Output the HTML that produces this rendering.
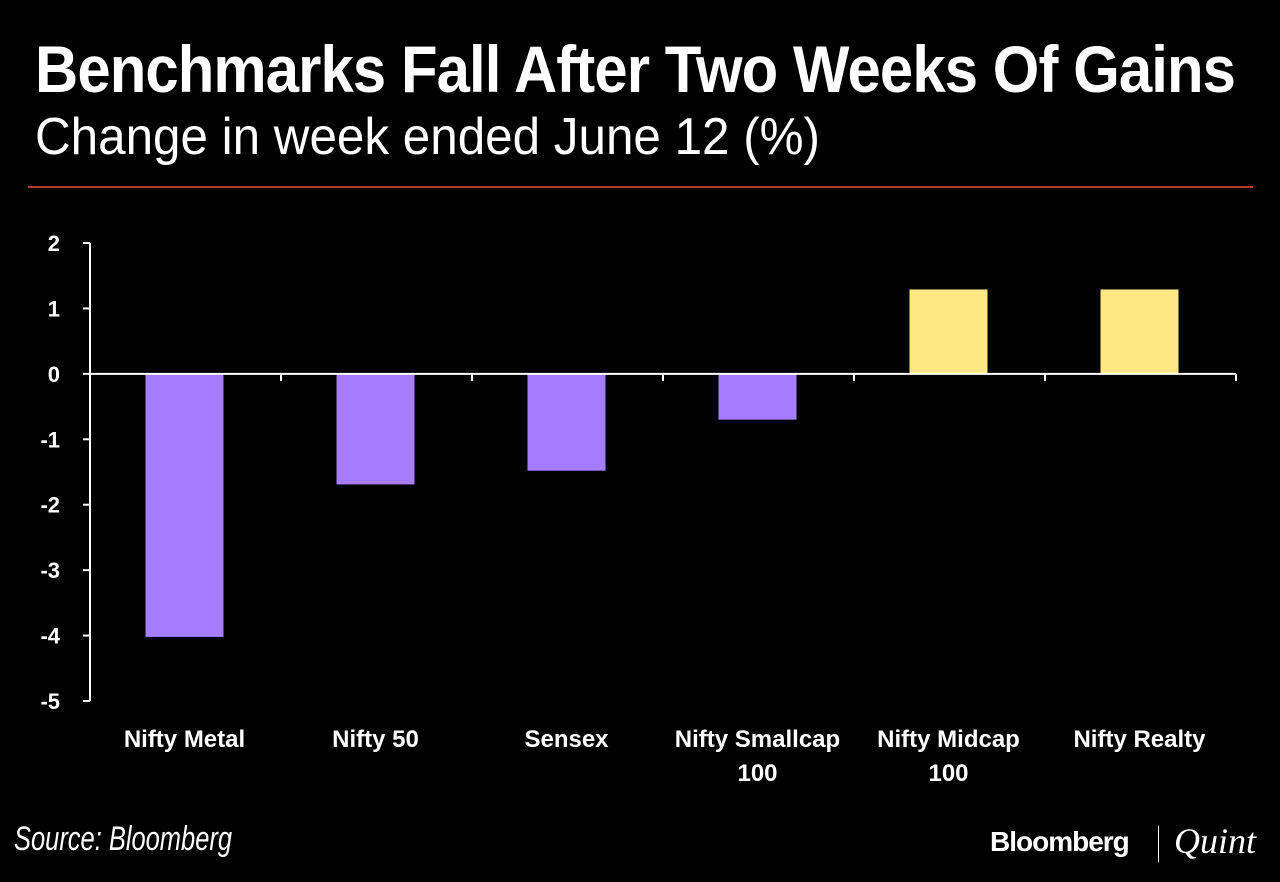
<!DOCTYPE html>
<html><head><meta charset="utf-8"><style>
html,body{margin:0;padding:0;background:#000;}
body{width:1280px;height:882px;position:relative;overflow:hidden;font-family:"Liberation Sans",sans-serif;color:#fff;}
.t{position:absolute;white-space:nowrap;transform-origin:0 0;}
</style></head><body>
<div class="t" style="left:35px;top:34px;font-size:66px;font-weight:bold;font-family:'Liberation Sans Narrow','Liberation Sans',sans-serif;letter-spacing:-1px;line-height:70px;" id="title">Benchmarks Fall After Two Weeks Of Gains</div>
<div class="t" style="left:35px;top:108px;font-size:52px;font-family:'Liberation Sans Narrow','Liberation Sans',sans-serif;line-height:58px;" id="sub">Change in week ended June 12 (%)</div>
<div style="position:absolute;left:28px;top:186px;width:1225px;height:2px;background:#b03a2e;"></div>
<svg id="chart" width="1280" height="882" style="position:absolute;left:0;top:0;"></svg>
<div class="t" style="left:14px;top:820px;font-size:34px;font-style:italic;font-family:'Liberation Sans Narrow','Liberation Sans',sans-serif;" id="src">Source: Bloomberg</div>
<div class="t" style="left:990px;top:826px;font-size:28px;font-weight:bold;letter-spacing:-1px;">Bloomberg</div>
<div style="position:absolute;left:1158px;top:826px;width:1px;height:36px;background:#fff;"></div>
<div class="t" style="left:1174px;top:820px;font-size:36px;font-style:italic;font-family:'Liberation Serif',serif;">Quint</div>
<script>
const categories=["Nifty Metal","Nifty 50","Sensex","Nifty Smallcap 100","Nifty Midcap 100","Nifty Realty"];
const labelLines=[["Nifty Metal"],["Nifty 50"],["Sensex"],["Nifty Smallcap","100"],["Nifty Midcap","100"],["Nifty Realty"]];
const values=[-4.02,-1.69,-1.48,-0.7,1.29,1.29];
const yTicks=[2,1,0,-1,-2,-3,-4,-5];
const NS="http://www.w3.org/2000/svg";
const svg=document.getElementById('chart');
const x0=90,x1=1236,yTop=243,yBot=701,vMax=2,vMin=-5;
const y=v=>yTop+(vMax-v)/(vMax-vMin)*(yBot-yTop);
const bw=(x1-x0)/categories.length;
const xc=i=>x0+bw*(i+0.5);
function mk(t,a){const e=document.createElementNS(NS,t);for(const k in a)e.setAttribute(k,a[k]);svg.appendChild(e);return e;}
let ax=mk('line',{x1:x0,y1:yTop,x2:x0,y2:yBot,stroke:'#fff','stroke-width':2});

yTicks.forEach(v=>{
 let tk=mk('line',{x1:x0-7,y1:y(v),x2:x0,y2:y(v),stroke:'#fff','stroke-width':2});
 
 let tx=mk('text',{x:60,y:y(v)+8,'text-anchor':'end',fill:'#fff','font-size':22,'font-weight':'bold','font-family':'Liberation Sans, sans-serif'});
 tx.textContent=v;
 
});
values.forEach((v,i)=>{
 const c=v<0?'#a67dff':'#ffe783';
 let r=mk('rect',{x:xc(i)-40,y:Math.min(y(v),y(0)),width:78,height:Math.abs(y(v)-y(0)),fill:c});
 
 
 labelLines[i].forEach((ln,j)=>{
  let tx=mk('text',{x:xc(i)-1,y:747+j*34,'text-anchor':'middle',fill:'#fff','font-size':24,'font-weight':'bold','font-family':'Liberation Sans, sans-serif'});
  tx.textContent=ln;
  
 });
});
let xa=mk('line',{x1:x0,y1:y(0),x2:x1,y2:y(0),stroke:'#fff','stroke-width':2});

for(let i=0;i<=categories.length;i++){
 let tk=mk('line',{x1:x0+bw*i,y1:y(0),x2:x0+bw*i,y2:y(0)+7,stroke:'#fff','stroke-width':2});
 
}
function fit(id,w){const e=document.getElementById(id);const s=w/e.getBoundingClientRect().width;e.style.transform='scaleX('+s+')';}
fit('title',1200);fit('sub',785);fit('src',218);
</script>
</body></html>
